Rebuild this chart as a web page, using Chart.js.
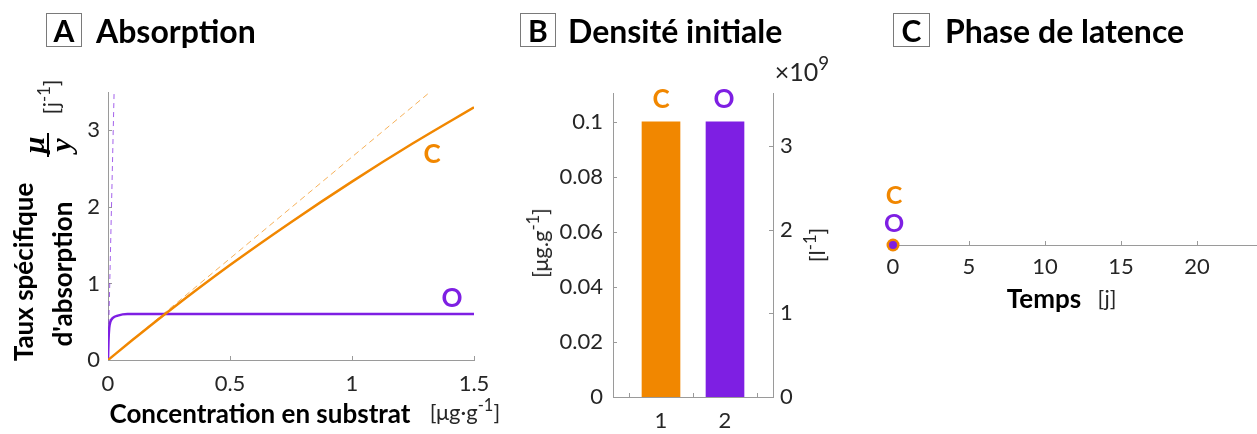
<!DOCTYPE html>
<html>
<head>
<meta charset="utf-8">
<script src="https://cdn.jsdelivr.net/npm/chart.js@4.4.1/dist/chart.umd.min.js"></script>
<style>
  html, body { margin: 0; padding: 0; background: #fff; overflow: hidden; width: 1257px; height: 434px; }
  body { position: relative; font-family: Lato, "Open Sans", sans-serif; color: #000; }
  canvas { position: absolute; top: 0; }
  .t { position: absolute; white-space: nowrap; line-height: 1; transform: translate(-50%, -50%); }
  .r { transform: translate(-50%, -50%) rotate(-90deg); }
  .b { font-weight: bold; }
  .box { position: absolute; border: 1px solid #7a7a7a; font-weight: bold; font-size: 30px;
         display: flex; align-items: center; justify-content: center; }
  .title { position: absolute; font-weight: bold; font-size: 32px; transform: translateY(-50%); white-space: nowrap; }
  .unit { font-size: 22px; color: #262626; }
  sup { font-size: 0.75em; vertical-align: 0.55em; line-height: 0; }
  .math { font-family: "Liberation Serif", serif; font-style: italic; font-weight: bold; font-size: 30px; }
  .fracbar { position: absolute; background: #000; }
</style>
</head>
<body>

<canvas id="chartA" width="520" height="434" style="left:0"></canvas>
<canvas id="chartB" width="360" height="434" style="left:500px"></canvas>
<canvas id="chartC" width="420" height="434" style="left:860px"></canvas>

<!-- panel titles -->
<div class="box" style="left:46px;top:13px;width:34px;height:32px;">A</div>
<div class="title" style="left:96px;top:30px;">Absorption</div>
<div class="box" style="left:520px;top:13px;width:34px;height:32px;">B</div>
<div class="title" style="left:568px;top:30px;">Densité initiale</div>
<div class="box" style="left:893px;top:13px;width:35px;height:32px;">C</div>
<div class="title" style="left:945px;top:30px;">Phase de latence</div>

<!-- panel A labels -->
<div class="t r b" style="left:23px;top:272px;font-size:26px;">Taux spécifique</div>
<div class="t r b" style="left:62px;top:274px;font-size:26px;">d'absorption</div>
<div class="t r math" style="left:34px;top:145px;">μ</div>
<div class="fracbar" style="left:47px;top:133px;width:2px;height:24px;"></div>
<div class="t r math" style="left:61px;top:145px;">y</div>
<div class="t r unit" style="left:51px;top:97px;">[j<sup>-1</sup>]</div>
<div class="t b" style="left:260px;top:413px;font-size:26px;">Concentration en substrat</div>
<div class="t unit" style="left:465px;top:412px;">[μg·g<sup>-1</sup>]</div>
<div class="t b" style="left:432px;top:153px;font-size:26px;color:#F18700;">C</div>
<div class="t b" style="left:452px;top:297px;font-size:26px;color:#7E1FE3;">O</div>

<!-- panel B labels -->
<div class="t r unit" style="left:540px;top:243px;">[μg.g<sup>-1</sup>]</div>
<div class="t r unit" style="left:817px;top:245px;">[l<sup>-1</sup>]</div>
<div class="t unit" style="left:802px;top:71px;font-size:25px;">×10<sup>9</sup></div>
<div class="t b" style="left:661px;top:98px;font-size:26px;color:#F18700;">C</div>
<div class="t b" style="left:724px;top:98px;font-size:26px;color:#7E1FE3;">O</div>

<!-- panel C labels -->
<div class="t b" style="left:894px;top:194px;font-size:25px;color:#F18700;">C</div>
<div class="t b" style="left:894px;top:222px;font-size:25px;color:#7E1FE3;">O</div>
<div class="t b" style="left:1044px;top:298px;font-size:26px;">Temps</div>
<div class="t unit" style="left:1107px;top:298px;">[j]</div>

<script>
const orange = "#F18700";
const purple = "#7E1FE3";
const orangeLight = "rgba(241,135,0,0.65)";
const purpleLight = "rgba(126,31,227,0.7)";
const axisGray = "#9a9a9a";
const tickColor = "#262626";

// A: absorption rate vs substrate concentration
const concC = [0, 0.1, 0.25, 0.5, 0.75, 1, 1.25, 1.5];
const rateC = [0, 0.26, 0.64, 1.24, 1.80, 2.33, 2.83, 3.30];
const concO = [0, 0.002, 0.005, 0.01, 0.02, 0.04, 0.08, 0.15, 1.5];
const rateO = [0, 0.25, 0.42, 0.5, 0.55, 0.58, 0.6, 0.6, 0.6];
const tangentC_x = [0, 1.32];
const tangentC_y = [0, 3.5];
const tangentO_x = [0, 0.025];
const tangentO_y = [0, 3.5];
const ticksAx = [0, 0.5, 1, 1.5];
const ticksAy = [0, 1, 2, 3];

// B: initial density
const barPos = [1, 2];
const density = [0.1, 0.1];
const barColors = [orange, purple];
const ticksBx = [0.5, 1, 1.5, 2, 2.5];
const ticksBy = [0, 0.02, 0.04, 0.06, 0.08, 0.1];
const ticksBy2 = [0, 1, 2, 3];

// C: lag phase
const lagC = 0;
const lagO = 0;
const ticksCx = [0, 5, 10, 15, 20];

Chart.defaults.font.family = "Lato, 'Open Sans', sans-serif";
Chart.defaults.color = tickColor;

function pts(xs, ys) {
    return xs.map((x, i) => ({ x: x, y: ys[i] }));
}

function fixedTicks(values) {
    return scale => { scale.ticks = values.map(v => ({ value: v })); };
}

// MATLAB style ticks pointing into the plot
const inwardTicks = {
    id: "inwardTicks",
    beforeDatasetsDraw(chart) {
        const { ctx, chartArea: a } = chart;
        ctx.save();
        ctx.strokeStyle = axisGray;
        ctx.lineWidth = 1;
        Object.values(chart.scales).forEach(s => {
            if (!s.options.display) return;
            s.ticks.forEach(t => {
                const p = Math.round(s.getPixelForValue(t.value)) + 0.5;
                ctx.beginPath();
                if (s.axis === "x") {
                    ctx.moveTo(p, a.bottom); ctx.lineTo(p, a.bottom - 4);
                } else if (s.position === "left") {
                    ctx.moveTo(a.left, p); ctx.lineTo(a.left + 4, p);
                } else {
                    ctx.moveTo(a.right, p); ctx.lineTo(a.right - 4, p);
                }
                ctx.stroke();
            });
        });
        ctx.restore();
    }
};

function axis(extra) {
    return Object.assign({
        type: "linear",
        grid: { display: false, drawTicks: false },
        border: { display: true, color: axisGray, width: 1 },
    }, extra);
}

const tickFont = { size: 22 };

const common = {
    responsive: false,
    animation: false,
    devicePixelRatio: 1,
    plugins: { legend: { display: false }, tooltip: { enabled: false } },
};

new Chart(document.getElementById("chartA"), {
    type: "line",
    data: {
        datasets: [
            { data: pts(concC, rateC), borderColor: orange, borderWidth: 2.5, cubicInterpolationMode: "monotone" },
            { data: pts(concO, rateO), borderColor: purple, borderWidth: 2.5, cubicInterpolationMode: "monotone" },
            { data: pts(tangentC_x, tangentC_y), borderColor: orangeLight, borderWidth: 1, borderDash: [6, 4] },
            { data: pts(tangentO_x, tangentO_y), borderColor: purpleLight, borderWidth: 1, borderDash: [5, 4] }
        ]
    },
    options: {
        ...common,
        layout: { padding: { top: 92, right: 46 } },
        elements: { point: { radius: 0 } },
        scales: {
            x: axis({
                min: 0, max: 1.5,
                afterFit: s => { s.height = 74; },
                afterBuildTicks: fixedTicks(ticksAx),
                ticks: { font: tickFont, padding: 11, callback: v => String(v) }
            }),
            y: axis({
                min: 0, max: 3.5,
                afterFit: s => { s.width = 108; },
                afterBuildTicks: fixedTicks(ticksAy),
                ticks: { font: tickFont, padding: 8, callback: v => String(v) }
            })
        }
    },
    plugins: [inwardTicks]
});

new Chart(document.getElementById("chartB"), {
    type: "bar",
    data: {
        datasets: [
            { data: pts(barPos, density), backgroundColor: barColors, barThickness: 38 }
        ]
    },
    options: {
        ...common,
        layout: { padding: { top: 93 } },
        scales: {
            x: axis({
                min: 0.25, max: 2.75, offset: false,
                afterFit: s => { s.height = 37; },
                afterBuildTicks: fixedTicks(ticksBx),
                ticks: { font: tickFont, padding: 11, callback: v => Number.isInteger(v) ? String(v) : "" }
            }),
            y: axis({
                min: 0, max: 0.1105,
                afterFit: s => { s.width = 113; },
                afterBuildTicks: fixedTicks(ticksBy),
                ticks: { font: tickFont, padding: 10, callback: v => String(v) }
            }),
            y2: axis({
                axis: "y", position: "right",
                min: 0, max: 3.63,
                afterFit: s => { s.width = 87; },
                afterBuildTicks: fixedTicks(ticksBy2),
                ticks: { font: tickFont, padding: 7, callback: v => String(v) }
            })
        }
    },
    plugins: [inwardTicks]
});

new Chart(document.getElementById("chartC"), {
    type: "scatter",
    data: {
        datasets: [
            { data: [{ x: lagO, y: 0 }], pointRadius: 4, backgroundColor: purple, borderWidth: 0, clip: false },
            { data: [{ x: lagC, y: 0 }], pointRadius: 6.5, backgroundColor: orange, borderWidth: 0, clip: false }
        ]
    },
    options: {
        ...common,
        layout: { padding: { top: 100, left: 33, right: 7 } },
        scales: {
            x: axis({
                min: 0, max: 25,
                afterFit: s => { s.height = 189; },
                afterBuildTicks: fixedTicks(ticksCx),
                ticks: { font: tickFont, padding: 9, callback: v => String(v) }
            }),
            y: { type: "linear", display: false, min: 0, max: 1 }
        }
    },
    plugins: [inwardTicks]
});
</script>
</body>
</html>
